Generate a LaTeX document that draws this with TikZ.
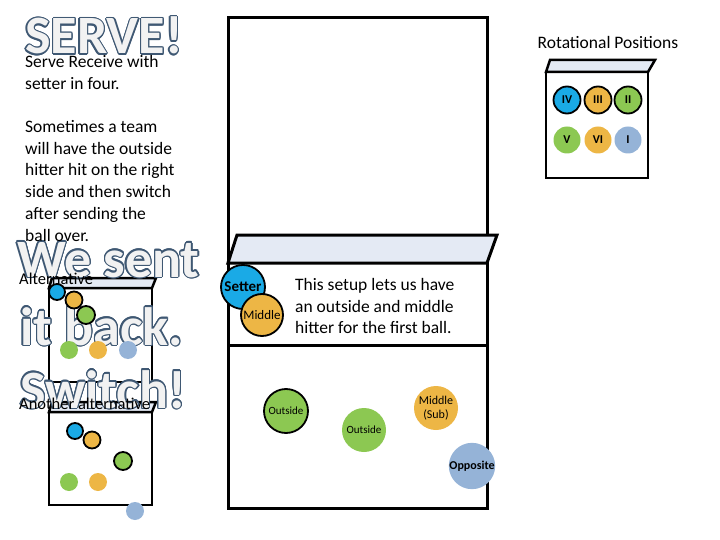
\documentclass[tikz,border=0pt]{standalone}
\usepackage{fontspec}
\setmainfont{Carlito}
\usepackage{contour}
\contourlength{1.2pt}
\definecolor{pblue}{HTML}{1AAAE6}
\definecolor{porange}{HTML}{EDB645}
\definecolor{pgreen}{HTML}{8CC852}
\definecolor{pgrey}{HTML}{95B3D7}
\definecolor{netfill}{HTML}{E4EAF4}
\definecolor{wa}{HTML}{3F5873}
\begin{document}
\begin{tikzpicture}[x=1pt,y=-1pt,
  court/.style={draw=black,line width=3pt},
  smallcourt/.style={draw=black,line width=2.5pt},
  net/.style={draw=black,fill=netfill,line width=3pt,line join=miter},
  pl/.style={circle,inner sep=0pt,minimum size=#1,font=\fontsize{11}{12}\selectfont},
  ring/.style={draw=black,line width=1.8pt},
  txt/.style={anchor=base west,inner sep=0pt,font=\fontsize{17.5}{17.5}\selectfont},
  big/.style={anchor=base west,inner sep=0pt,font=\fontsize{54}{54}\selectfont\bfseries}]
\useasboundingbox (0,0) rectangle (720,540);
% small courts (behind word art)
\draw[smallcourt] (49,288) rectangle (152,382);
\draw[smallcourt,fill=netfill] (52,278) -- (156,278) -- (152,288) -- (49,288) -- cycle;
\draw[smallcourt] (49,412) rectangle (152,505);
\draw[smallcourt,fill=netfill] (52,402) -- (156,402) -- (152,412) -- (49,412) -- cycle;
% WordArt
\node[big] (serve) at (25,54) {\contour{wa}{\textcolor{white!95!black}{SERVE!}}};
\node[big] (wesent) at (17,277) {\contour{wa}{\textcolor{white!95!black}{We sent}}};
\node[big] (itback) at (20,345) {\contour{wa}{\textcolor{white!95!black}{it back.}}};
\node[big] (switch) at (20,408) {\contour{wa}{\textcolor{white!95!black}{Switch!}}};
% left text
\node[txt] (t1) at (25,68) {Serve Receive with};
\node[txt] (t2) at (25,90) {setter in four.};
\node[txt] (t3) at (25,133) {Sometimes a team};
\node[txt] (t4) at (25,155) {will have the outside};
\node[txt] (t5) at (25,176) {hitter hit on the right};
\node[txt] (t6) at (25,198) {side and then switch};
\node[txt] (t7) at (25,220) {after sending the};
\node[txt] (t8) at (25,241) {ball over.};
\node[txt,font=\fontsize{16.5}{16.5}\selectfont] (alt1) at (19,284) {Alternative};
\node[txt,font=\fontsize{16.5}{16.5}\selectfont] (alt2) at (19,409) {Another alternative};
% main court
\draw[court] (228,18) rectangle (487,508);
\draw[court] (228,345) -- (487,345);
\draw[net] (237,235) -- (497,235) -- (487,263) -- (228,263) -- cycle;
\node[txt] (info1) at (295,290) {This setup lets us have};
\node[txt] (info2) at (295,312) {an outside and middle};
\node[txt] (info3) at (295,333) {hitter for the first ball.};
\node[pl=44pt,fill=pblue,ring,font=\fontsize{15}{15}\selectfont\bfseries] (setter) at (243,287) {Setter};
\node[pl=42pt,fill=porange,ring,font=\fontsize{13}{13}\selectfont] (middle) at (262,315) {Middle};
\node[pl=44pt,fill=pgreen,ring] (out1) at (286,411) {Outside};
\node[pl=44pt,fill=pgreen] (out2) at (364,430) {Outside};
\node[pl=44pt,fill=porange,align=center,font=\fontsize{12}{14}\selectfont] (msub) at (436,408) {Middle\\(Sub)};
\node[pl=44pt,fill=pgrey,font=\fontsize{12}{12}\selectfont\bfseries] (opp) at (472,466) {Opposite};
% rotational positions
\node[anchor=base,inner sep=0pt,font=\fontsize{17.5}{17.5}\selectfont] (rot) at (608,49) {Rotational Positions};
\draw[smallcourt] (546,72) rectangle (648,178);
\draw[smallcourt,fill=netfill] (550,60) -- (655,60) -- (648,72) -- (546,72) -- cycle;
\node[pl=27pt,fill=pblue,ring,font=\fontsize{12}{12}\selectfont\bfseries] (r4) at (567,100) {IV};
\node[pl=27pt,fill=porange,ring,font=\fontsize{12}{12}\selectfont\bfseries] (r3) at (598,100) {III};
\node[pl=27pt,fill=pgreen,ring,font=\fontsize{12}{12}\selectfont\bfseries] (r2) at (628,100) {II};
\node[pl=27pt,fill=pgreen,font=\fontsize{12}{12}\selectfont\bfseries] (r5) at (567,140) {V};
\node[pl=27pt,fill=porange,font=\fontsize{12}{12}\selectfont\bfseries] (r6) at (598,140) {VI};
\node[pl=27pt,fill=pgrey,font=\fontsize{12}{12}\selectfont\bfseries] (r1) at (628,140) {I};
% players alternative court 1
\node[pl=16pt,fill=pblue,ring] (a1s) at (57,292) {};
\node[pl=17pt,fill=porange,ring] (a1m) at (74,300) {};
\node[pl=18pt,fill=pgreen,ring] (a1o) at (86,315) {};
\node[pl=18pt,fill=pgreen] (a1g) at (69,350) {};
\node[pl=18pt,fill=porange] (a1y) at (98,350) {};
\node[pl=18pt,fill=pgrey] (a1b) at (128,350) {};
% players alternative court 2
\node[pl=16pt,fill=pblue,ring] (a2s) at (75,431) {};
\node[pl=17pt,fill=porange,ring] (a2m) at (92,440) {};
\node[pl=18pt,fill=pgreen,ring] (a2o) at (123,461) {};
\node[pl=18pt,fill=pgreen] (a2g) at (69,482) {};
\node[pl=18pt,fill=porange] (a2y) at (98,482) {};
\node[pl=18pt,fill=pgrey] (a2b) at (135,511) {};
\end{tikzpicture}
\end{document}
